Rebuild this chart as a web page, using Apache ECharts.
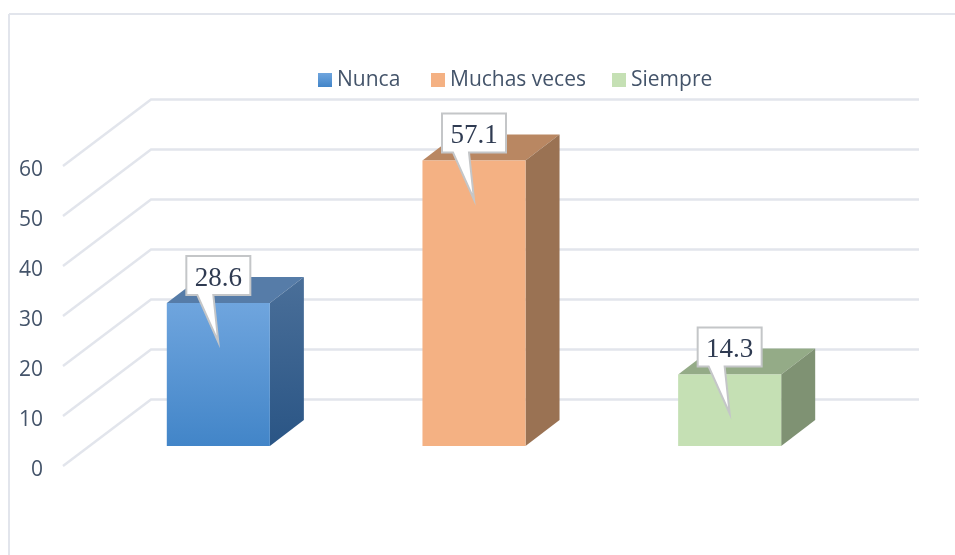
<!DOCTYPE html>
<html>
<head>
<meta charset="utf-8">
<script src="https://cdn.jsdelivr.net/npm/echarts@6/dist/echarts.min.js"></script>
<style>
html, body { margin: 0; padding: 0; background: #fff; }
#chart { width: 955px; height: 555px; }
</style>
</head>
<body>
<div id="chart"></div>
<script>
// data
var categories = ['Nunca', 'Muchas veces', 'Siempre'];
var values = [28.6, 57.1, 14.3];
var yTicks = [0, 10, 20, 30, 40, 50, 60];

// 3d look of the old chart, in pixels
var WALL_DX = 88, WALL_DY = -66.5;      // front plane to back wall
var BAR_DX = 26.5, BAR_DY = -20;        // front plane to bar front face
var DEPTH_DX = 34, DEPTH_DY = -26;      // bar depth
var BAR_RATIO = 103 / 255.5;
var LEGEND_LEFT = [318, 431, 612];      // gaps are not even in the picture

function vGrad(a, b) {
    return new echarts.graphic.LinearGradient(0, 0, 0, 1, [
        { offset: 0, color: a },
        { offset: 1, color: b }
    ]);
}

var faces = [
    { front: vGrad('#6fa5de', '#4285c8'), top: '#567ca8', side: vGrad('#4a6f99', '#2a5585') },
    { front: '#f4b183', top: '#b98762', side: '#9a7253' },
    { front: '#c5e0b4', top: '#94ab87', side: '#7f9273' }
];

function renderWall(params, api) {
    var p = api.coord([0, api.value(0)]);
    var left = params.coordSys.x;
    var right = params.coordSys.x + params.coordSys.width;
    return {
        type: 'polyline',
        shape: {
            points: [
                [left - 1, p[1]],
                [left + WALL_DX - 1, p[1] + WALL_DY],
                [right + WALL_DX, p[1] + WALL_DY]
            ]
        },
        style: { fill: null, stroke: '#e2e5ec', lineWidth: 2.4 },
        silent: true
    };
}

function renderBar(face) {
    return function (params, api) {
        var base = api.coord([api.value(0), 0]);
        var head = api.coord([api.value(0), api.value(1)]);
        var w = api.size([1, 0])[0] * BAR_RATIO;
        var cx = base[0] + BAR_DX;
        var x0 = cx - w / 2, x1 = cx + w / 2;
        var y0 = base[1] + BAR_DY, y1 = head[1] + BAR_DY;
        var label = String(api.value(1));
        return {
            type: 'group',
            children: [
                { type: 'polygon', shape: { points: [[x0, y1], [x1, y1], [x1 + DEPTH_DX, y1 + DEPTH_DY], [x0 + DEPTH_DX, y1 + DEPTH_DY]] }, style: { fill: face.top } },
                { type: 'polygon', shape: { points: [[x1, y0], [x1 + DEPTH_DX, y0 + DEPTH_DY], [x1 + DEPTH_DX, y1 + DEPTH_DY], [x1, y1]] }, style: { fill: face.side } },
                { type: 'rect', shape: { x: x0, y: y1, width: w, height: y0 - y1 }, style: { fill: face.front } },
                // callout with the value
                {
                    type: 'polygon',
                    shape: {
                        points: [
                            [cx - 32, y1 - 47], [cx + 32, y1 - 47], [cx + 32, y1 - 8],
                            [cx - 5, y1 - 8], [cx, y1 + 39], [cx - 21, y1 - 8], [cx - 32, y1 - 8]
                        ]
                    },
                    style: { fill: '#fff', stroke: '#c4c6c8', lineWidth: 2 }
                },
                {
                    type: 'text',
                    style: {
                        x: cx, y: y1 - 24.5, text: label,
                        align: 'center', verticalAlign: 'middle',
                        font: '27px "Liberation Serif"', fill: '#2f3b52'
                    }
                }
            ]
        };
    };
}

var series = [{
    type: 'custom',
    name: 'wall',
    silent: true,
    z: 1,
    renderItem: renderWall,
    encode: { y: 0 },
    data: yTicks.map(function (t) { return [t]; })
}];

categories.forEach(function (name, i) {
    series.push({
        type: 'custom',
        name: name,
        z: 2 + i,
        itemStyle: { color: faces[i].front },
        renderItem: renderBar(faces[i]),
        encode: { x: 0, y: 1 },
        data: [[i, values[i]]]
    });
});

var chart = echarts.init(document.getElementById('chart'), null, { renderer: 'canvas' });
chart.setOption({
    animation: false,
    backgroundColor: '#fff',
    grid: { left: 64, right: 124, top: 166, bottom: 89 },
    legend: categories.map(function (name, i) {
        return {
            data: [name],
            left: LEGEND_LEFT[i],
            top: 69.5,
            padding: 0,
            icon: 'rect',
            itemWidth: 14,
            itemHeight: 14,
            selectedMode: false,
            textStyle: { fontFamily: 'Open Sans', fontSize: 21, color: '#44546a' }
        };
    }),
    xAxis: {
        type: 'category',
        data: categories,
        axisLine: { show: false },
        axisTick: { show: false },
        axisLabel: { show: false },
        splitLine: { show: false }
    },
    yAxis: {
        type: 'value',
        min: 0,
        max: 60,
        interval: 10,
        axisLine: { show: false },
        axisTick: { show: false },
        splitLine: { show: false },
        axisLabel: {
            margin: 21,
            fontFamily: 'Open Sans',
            fontSize: 21,
            color: '#44546a',
            verticalAlign: 'top',
            lineHeight: 8
        }
    },
    graphic: [
        { type: 'line', shape: { x1: 9, y1: 14, x2: 9, y2: 555 }, style: { stroke: '#e2e5ec', lineWidth: 2 }, silent: true },
        { type: 'line', shape: { x1: 9, y1: 14, x2: 955, y2: 14 }, style: { stroke: '#e2e5ec', lineWidth: 2 }, silent: true }
    ],
    series: series
});
</script>
</body>
</html>
